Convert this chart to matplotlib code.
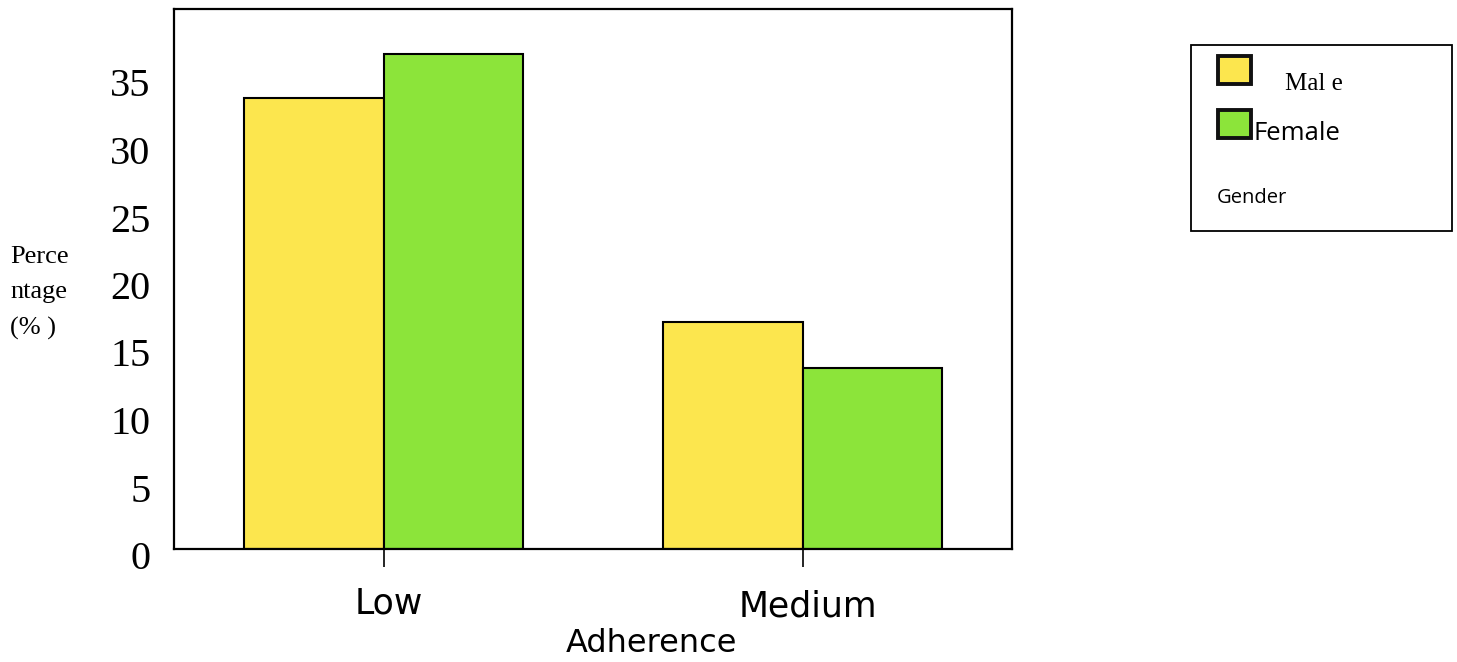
import matplotlib.pyplot as plt
import matplotlib.transforms as mtransforms
import numpy as np
from matplotlib.patches import Rectangle

levels = ["Low", "Medium"]
genders = ["Male", "Female"]
male_pct = [33.4, 16.8]
female_pct = [36.7, 13.4]
colors = ["#fce64e", "#8ce43a"]
yticks = [0, 5, 10, 15, 20, 25, 30, 35]

W, H = 1457, 662
fig = plt.figure(figsize=(W / 100, H / 100), dpi=100)
ax = fig.add_axes([174 / W, 1 - 549 / H, (1012 - 174) / W, (549 - 9) / H])

x = np.arange(len(levels))
width = 0.332
ax.bar(x - width / 2, male_pct, width, color=colors[0], edgecolor="black", linewidth=1.5)
ax.bar(x + width / 2, female_pct, width, color=colors[1], edgecolor="black", linewidth=1.5)

ax.set_xlim(-0.5, 1.5)
ax.set_ylim(0, 40)
for s in ax.spines.values():
    s.set_linewidth(1.6)

ax.set_xticks(x)
ax.set_xticklabels(levels, family="DejaVu Sans", fontsize=25)
ax.tick_params(axis="x", length=13, width=1.2, pad=14)
# labels sit a little right of the ticks, Medium a touch lower than Low
for lbl, dy in zip(ax.get_xticklabels(), [0, -3]):
    lbl.set_transform(lbl.get_transform() +
                      mtransforms.ScaledTranslation(5 / 100, dy / 100, fig.dpi_scale_trans))

ax.set_yticks(yticks)
ax.set_yticklabels([str(t) for t in yticks], family="Liberation Serif", fontsize=29)
ax.tick_params(axis="y", length=0, pad=17)
shift = mtransforms.ScaledTranslation(0, -6 / 100, fig.dpi_scale_trans)
for lbl in ax.get_yticklabels():
    lbl.set_transform(lbl.get_transform() + shift)

fig.text(652 / W, 1 - 643 / H, "Adherence", ha="center", va="center",
         family="DejaVu Sans", fontsize=23)
fig.text(10 / W, 1 - 293 / H, "Perce\nntage\n(% )", ha="left", va="center",
         family="Liberation Serif", fontsize=19, linespacing=1.75)

# legend box drawn by hand
fig.patches.append(Rectangle((1191 / W, 1 - 231 / H), (1452 - 1191) / W, (231 - 45) / H,
                             transform=fig.transFigure, fill=False, edgecolor="black",
                             linewidth=1.3))
for (y0, c) in [(56, colors[0]), (110, colors[1])]:
    fig.patches.append(Rectangle((1218 / W, 1 - (y0 + 28) / H), 33 / W, 28 / H,
                                 transform=fig.transFigure, facecolor=c,
                                 edgecolor="#111111", linewidth=2.8))
fig.text(1285 / W, 1 - 84 / H, "Mal e", ha="left", va="center",
         family="Liberation Serif", fontsize=18)
fig.text(1254 / W, 1 - 134 / H, genders[1], ha="left", va="center",
         family="Open Sans", fontsize=18.5)
fig.text(1217 / W, 1 - 198 / H, "Gender", ha="left", va="center",
         family="Open Sans", fontsize=14.5)

fig.savefig("out.png", dpi=100)
